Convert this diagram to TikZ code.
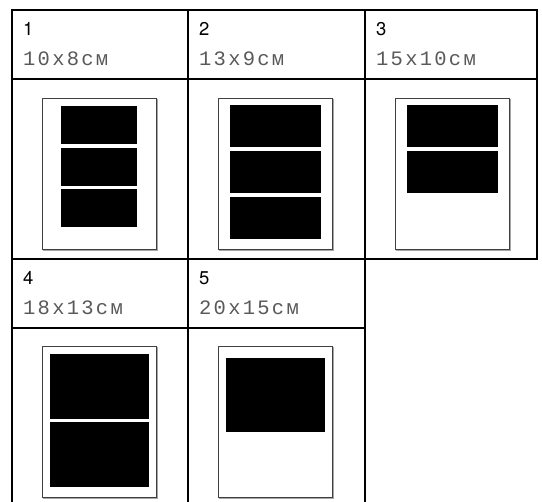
\documentclass[tikz,border=0pt]{standalone}
\usepackage{fontspec}
\setmainfont{Liberation Sans}
\newfontfamily\numfont{TeX Gyre Heros}
\newfontfamily\sizefont{Liberation Mono}[LetterSpace=11]
\usepackage{tikz}

\tikzset{
  grid line/.style={line width=2pt, line cap=rect},
  sheet/.style={draw=black!75, line width=1pt, fill=white},
  sheet shadow/.style={draw=black!35, line width=1pt},
  photo/.style={fill=black},
  num label/.style={anchor=base west, inner sep=0pt, font=\numfont\fontsize{18.5}{18.5}\selectfont},
  size label/.style={anchor=base west, inner sep=0pt, text=black!65, font=\sizefont\fontsize{20.5}{20.5}\selectfont}
}

\begin{document}
\begin{tikzpicture}[x=1pt,y=-1pt]
  \useasboundingbox (0,0) rectangle (542,502);

  % table
  \draw[grid line] (12,502) -- (12,10) -- (537,10) -- (537,259);
  \draw[grid line] (12,79) -- (537,79);
  \draw[grid line] (12,259) -- (537,259);
  \draw[grid line] (12,328) -- (365,328);
  \draw[grid line] (188,10) -- (188,502);
  \draw[grid line] (365,10) -- (365,502);

  % headers
  \node[num label] (num1) at (23,36) {1};
  \node[size label] (size1) at (23,65.5) {10x8см};
  \node[num label] (num2) at (199,36) {2};
  \node[size label] (size2) at (199,65.5) {13x9см};
  \node[num label] (num3) at (376,36) {3};
  \node[size label] (size3) at (376,65.5) {15x10см};
  \node[num label] (num4) at (23,285) {4};
  \node[size label] (size4) at (23,314.5) {18x13см};
  \node[num label] (num5) at (199,285) {5};
  \node[size label] (size5) at (199,314.5) {20x15см};

  % sheets
  \foreach \x in {42.5,218.5,395.5}{
    \draw[sheet shadow] (\x+1,99.5) rectangle (\x+114.5,250.5);
    \draw[sheet] (\x,98.5) rectangle (\x+113.5,249.5);
  }
  \foreach \x in {42.5,218.5}{
    \draw[sheet shadow] (\x+1,347.5) rectangle (\x+114.5,498.5);
    \draw[sheet] (\x,346.5) rectangle (\x+113.5,497.5);
  }

  % photos
  \fill[photo] (61,106) rectangle (137,144);
  \fill[photo] (61,148) rectangle (137,186);
  \fill[photo] (61,189.5) rectangle (137,227);

  \fill[photo] (230,105.5) rectangle (321,147.5);
  \fill[photo] (230,151) rectangle (321,193);
  \fill[photo] (230,197) rectangle (321,239);

  \fill[photo] (407,105.5) rectangle (498,147.5);
  \fill[photo] (407,151) rectangle (498,193);

  \fill[photo] (50,354) rectangle (149,419);
  \fill[photo] (50,422.5) rectangle (149,487);

  \fill[photo] (226,358) rectangle (325,432);
\end{tikzpicture}
\end{document}
